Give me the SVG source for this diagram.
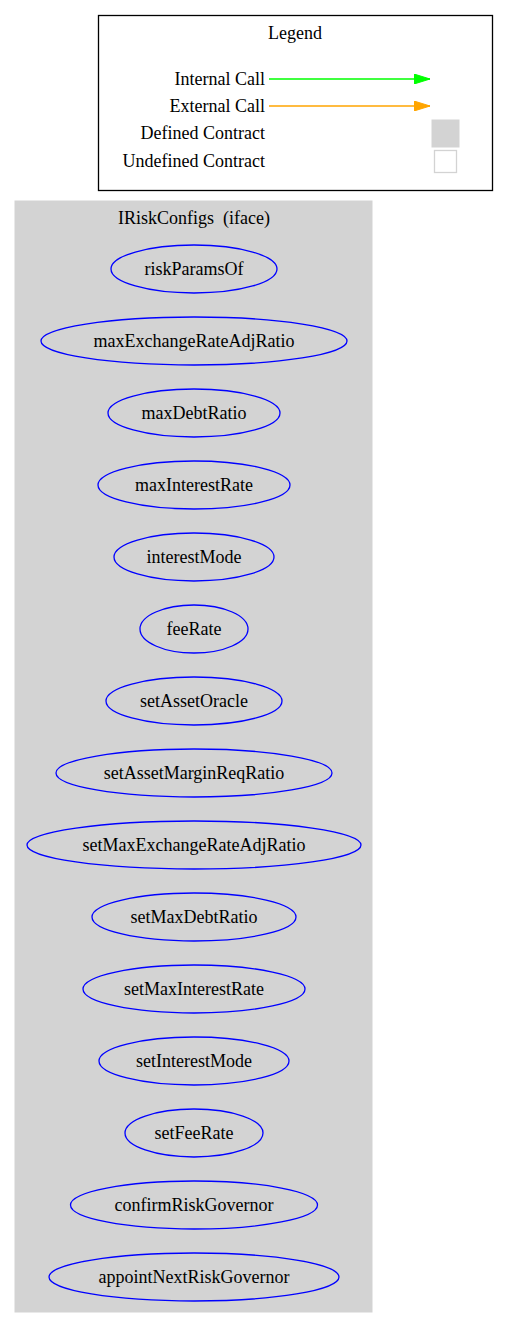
<svg xmlns="http://www.w3.org/2000/svg" width="508" height="1328" viewBox="0 0 508 1328">
<style>
text{font-family:"Liberation Serif","Times New Roman",serif;font-size:18px;fill:#000}
.c{text-anchor:middle}
.r{text-anchor:end}
.fn ellipse{fill:none;stroke:#0000ff;stroke-width:1.3}
</style>
<defs>
<marker id="ag" markerWidth="16" markerHeight="10" refX="16" refY="5" orient="auto" markerUnits="userSpaceOnUse"><path d="M0,0L16,5L0,10z" fill="#00ff00" stroke="#00ff00"/></marker>
<marker id="ao" markerWidth="16" markerHeight="10" refX="16" refY="5" orient="auto" markerUnits="userSpaceOnUse"><path d="M0,0L16,5L0,10z" fill="#ffa500" stroke="#ffa500"/></marker>
</defs>
<rect width="508" height="1328" fill="#fff"/>
<g id="legend">
<rect x="98.5" y="15.5" width="394" height="175" fill="#fff" stroke="#000" stroke-width="1.3"/>
<text class="c" x="295" y="39">Legend</text>
<text class="r" x="265" y="85">Internal Call</text>
<text class="r" x="265" y="112">External Call</text>
<text class="r" x="265" y="139">Defined Contract</text>
<text class="r" x="265" y="167">Undefined Contract</text>
<rect x="432" y="120" width="27" height="27" fill="#d3d3d3" stroke="#d3d3d3"/>
<rect x="434.5" y="150.5" width="22" height="22" fill="#fff" stroke="#d3d3d3" stroke-width="1.3"/>
</g>
<g id="connectors">
<line x1="269" y1="79" x2="430" y2="79" stroke="#00ff00" stroke-width="1.3" marker-end="url(#ag)"/>
<line x1="269" y1="106" x2="430" y2="106" stroke="#ffa500" stroke-width="1.3" marker-end="url(#ao)"/>
</g>
<g id="cluster_IRiskConfigs">
<rect x="15" y="201" width="357" height="1111" fill="#d3d3d3" stroke="#d3d3d3"/>
<text class="c" x="194" y="224" xml:space="preserve" style="white-space:pre">IRiskConfigs  (iface)</text>
</g>
<g id="riskParamsOf" class="fn"><ellipse cx="194" cy="269" rx="83" ry="24"/><text class="c" x="194" y="275">riskParamsOf</text></g>
<g id="maxExchangeRateAdjRatio" class="fn"><ellipse cx="194" cy="341" rx="153" ry="24"/><text class="c" x="194" y="347">maxExchangeRateAdjRatio</text></g>
<g id="maxDebtRatio" class="fn"><ellipse cx="194" cy="413" rx="86" ry="24"/><text class="c" x="194" y="419">maxDebtRatio</text></g>
<g id="maxInterestRate" class="fn"><ellipse cx="194" cy="485" rx="96" ry="24"/><text class="c" x="194" y="491">maxInterestRate</text></g>
<g id="interestMode" class="fn"><ellipse cx="194" cy="557" rx="80" ry="24"/><text class="c" x="194" y="563">interestMode</text></g>
<g id="feeRate" class="fn"><ellipse cx="194" cy="629" rx="54" ry="24"/><text class="c" x="194" y="635">feeRate</text></g>
<g id="setAssetOracle" class="fn"><ellipse cx="194" cy="701" rx="88" ry="24"/><text class="c" x="194" y="707">setAssetOracle</text></g>
<g id="setAssetMarginReqRatio" class="fn"><ellipse cx="194" cy="773" rx="138" ry="24"/><text class="c" x="194" y="779">setAssetMarginReqRatio</text></g>
<g id="setMaxExchangeRateAdjRatio" class="fn"><ellipse cx="194" cy="845" rx="167" ry="24"/><text class="c" x="194" y="851">setMaxExchangeRateAdjRatio</text></g>
<g id="setMaxDebtRatio" class="fn"><ellipse cx="194" cy="917" rx="102" ry="24"/><text class="c" x="194" y="923">setMaxDebtRatio</text></g>
<g id="setMaxInterestRate" class="fn"><ellipse cx="194" cy="989" rx="111" ry="24"/><text class="c" x="194" y="995">setMaxInterestRate</text></g>
<g id="setInterestMode" class="fn"><ellipse cx="194" cy="1061" rx="95" ry="24"/><text class="c" x="194" y="1067">setInterestMode</text></g>
<g id="setFeeRate" class="fn"><ellipse cx="194" cy="1133" rx="69" ry="24"/><text class="c" x="194" y="1139">setFeeRate</text></g>
<g id="confirmRiskGovernor" class="fn"><ellipse cx="194" cy="1205" rx="123.5" ry="24"/><text class="c" x="194" y="1211">confirmRiskGovernor</text></g>
<g id="appointNextRiskGovernor" class="fn"><ellipse cx="194" cy="1277" rx="145" ry="24"/><text class="c" x="194" y="1283">appointNextRiskGovernor</text></g>
</svg>
